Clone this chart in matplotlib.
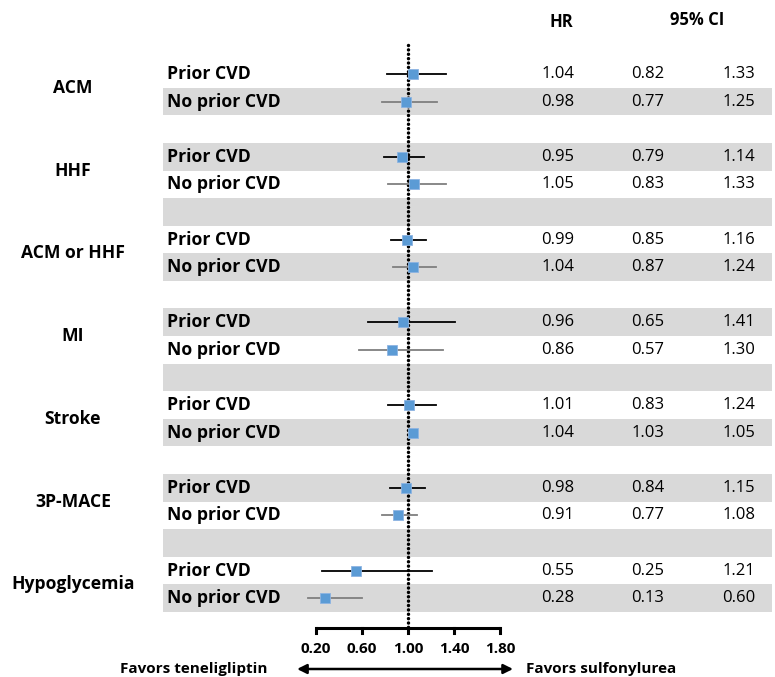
import numpy as np
import matplotlib.pyplot as plt
import matplotlib.transforms as mtransforms

plt.rcParams['font.family'] = ['Open Sans', 'DejaVu Sans']

groups = ["ACM", "HHF", "ACM or HHF", "MI", "Stroke", "3P-MACE", "Hypoglycemia"]
subgroups = ["Prior CVD", "No prior CVD"]

hr_prior = [1.04, 0.95, 0.99, 0.96, 1.01, 0.98, 0.55]
lo_prior = [0.82, 0.79, 0.85, 0.65, 0.83, 0.84, 0.25]
hi_prior = [1.33, 1.14, 1.16, 1.41, 1.24, 1.15, 1.21]

hr_noprior = [0.98, 1.05, 1.04, 0.86, 1.04, 0.91, 0.28]
lo_noprior = [0.77, 0.83, 0.87, 0.57, 1.03, 0.77, 0.13]
hi_noprior = [1.25, 1.33, 1.24, 1.30, 1.05, 1.08, 0.60]

xticks = [0.20, 0.60, 1.00, 1.40, 1.80]

fig = plt.figure(figsize=(7.75, 6.77), dpi=100)
ax = fig.add_axes([0, 0, 1, 1])
ax.set_xlim(-2.548, 4.191)
ax.set_ylim(21.86, -2.683)
ax.axis('off')

blend = mtransforms.blended_transform_factory(ax.transAxes, ax.transData)

band = '#D9D9D9'
blue = '#5B9BD5'
nrows = len(groups) * 3 - 1

# alternating shaded rows
for r in range(nrows):
    if r % 2 == 1:
        ax.axhspan(r - 0.5, r + 0.5, xmin=0.2103, xmax=0.996, color=band, lw=0, zorder=0)

# reference line at HR = 1
ax.plot([1, 1], [-1.05, 20.09], color='black', lw=2.5, ls=(0, (0.01, 1.25)),
        dash_capstyle='round', zorder=2)

series = [(hr_prior, lo_prior, hi_prior, 'black'),
          (hr_noprior, lo_noprior, hi_noprior, '#7F7F7F')]

for g, name in enumerate(groups):
    y0 = g * 3
    ax.text(0.094, y0 + 0.5, name, transform=blend, ha='center', va='center',
            fontsize=12.6, fontweight='bold')
    for s, (hr, lo, hi, wc) in enumerate(series):
        y = y0 + s
        ax.text(0.216, y, subgroups[s], transform=blend, ha='left', va='center',
                fontsize=12.7, fontweight='bold')
        ax.plot([lo[g], hi[g]], [y, y], color=wc, lw=1.3, zorder=3)
        ax.plot(hr[g], y, 's', color=blue, ms=7.5, mec='#8DB4E2', mew=0.6, zorder=4)
        ax.text(0.72, y, f"{hr[g]:.2f}", transform=blend, ha='center', va='center', fontsize=12)
        ax.text(0.836, y, f"{lo[g]:.2f}", transform=blend, ha='center', va='center', fontsize=12)
        ax.text(0.9535, y, f"{hi[g]:.2f}", transform=blend, ha='center', va='center', fontsize=12)

# column headers
ax.text(0.724, -1.885, "HR", transform=blend, ha='center', va='center',
        fontsize=12, fontweight='bold')
ax.text(0.899, -1.96, "95% CI", transform=blend, ha='center', va='center',
        fontsize=12, fontweight='bold')

# scale bracket with ticks
axis_y = 20.09
ax.plot([xticks[0], xticks[-1]], [axis_y, axis_y], color='black', lw=2.2,
        solid_capstyle='butt', zorder=3)
for t in xticks:
    ax.plot([t, t], [axis_y, axis_y + 0.17], color='black', lw=2.2, zorder=3)
    ax.text(t, 20.85, f"{t:.2f}", ha='center', va='center', fontsize=11, fontweight='bold')

# direction arrow
ax.annotate("", xy=(0.035, 21.57), xytext=(1.913, 21.57),
            arrowprops=dict(arrowstyle='<|-|>', color='black', lw=1.8,
                            mutation_scale=14, shrinkA=0, shrinkB=0))
ax.text(-0.226, 21.57, "Favors teneligliptin", ha='right', va='center',
        fontsize=11, fontweight='bold')
ax.text(2.03, 21.57, "Favors sulfonylurea", ha='left', va='center',
        fontsize=11, fontweight='bold')

fig.savefig('out.png', dpi=100)
